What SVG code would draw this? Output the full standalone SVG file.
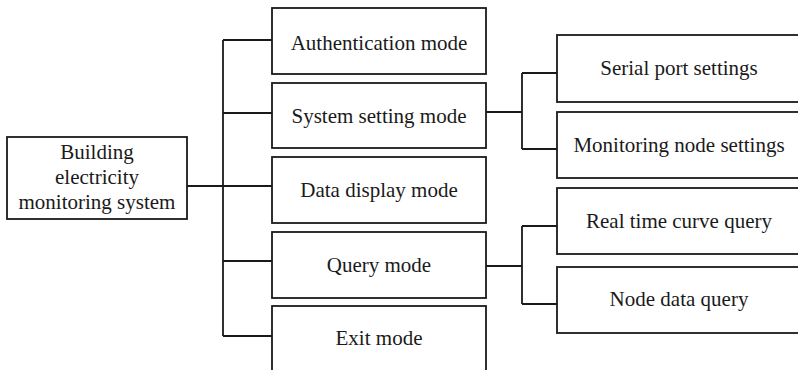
<svg xmlns="http://www.w3.org/2000/svg" width="798" height="370" viewBox="0 0 798 370">
<style>
.box{fill:#fff;stroke:#1a1a1a;stroke-width:1.8}
.t{font-family:"Liberation Serif","Times New Roman",serif;font-size:21px;fill:#1a1a1a;text-anchor:middle}
.c{fill:none;stroke:#1a1a1a;stroke-width:1.8}
</style>
<rect width="798" height="370" fill="#fff"/>
<g id="connectors">
<path class="c" d="M187 186H272"/>
<path class="c" d="M223 40V336"/>
<path class="c" d="M223 40H272M223 113H272M223 261H272M223 336H272"/>
<path class="c" d="M486 112H522M522 73V149M522 73H557M522 149H557"/>
<path class="c" d="M486 266H522M522 226V304M522 226H557M522 304H557"/>
</g>
<g id="main"><rect class="box" x="7" y="137" width="180" height="82"/>
<text class="t" x="97" y="159">Building</text><text class="t" x="97" y="184">electricity</text><text class="t" x="97" y="209">monitoring system</text></g>
<g id="auth"><rect class="box" x="272" y="8" width="214" height="66"/><text class="t" x="379" y="50">Authentication mode</text></g>
<g id="system"><rect class="box" x="272" y="83" width="214" height="65"/><text class="t" x="379" y="123">System setting mode</text></g>
<g id="data"><rect class="box" x="272" y="157" width="214" height="66"/><text class="t" x="379" y="197">Data display mode</text></g>
<g id="query"><rect class="box" x="272" y="232" width="214" height="66"/><text class="t" x="379" y="272">Query mode</text></g>
<g id="exit"><rect class="box" x="272" y="306" width="214" height="66"/><text class="t" x="379" y="345">Exit mode</text></g>
<g id="serial"><rect class="box" x="557" y="35" width="246" height="67"/><text class="t" x="679" y="75">Serial port settings</text></g>
<g id="monitoring"><rect class="box" x="557" y="112" width="246" height="66"/><text class="t" x="679" y="152">Monitoring node settings</text></g>
<g id="realtime"><rect class="box" x="557" y="188" width="246" height="66"/><text class="t" x="679" y="228">Real time curve query</text></g>
<g id="nodedata"><rect class="box" x="557" y="267" width="246" height="66"/><text class="t" x="679" y="306">Node data query</text></g>
</svg>
